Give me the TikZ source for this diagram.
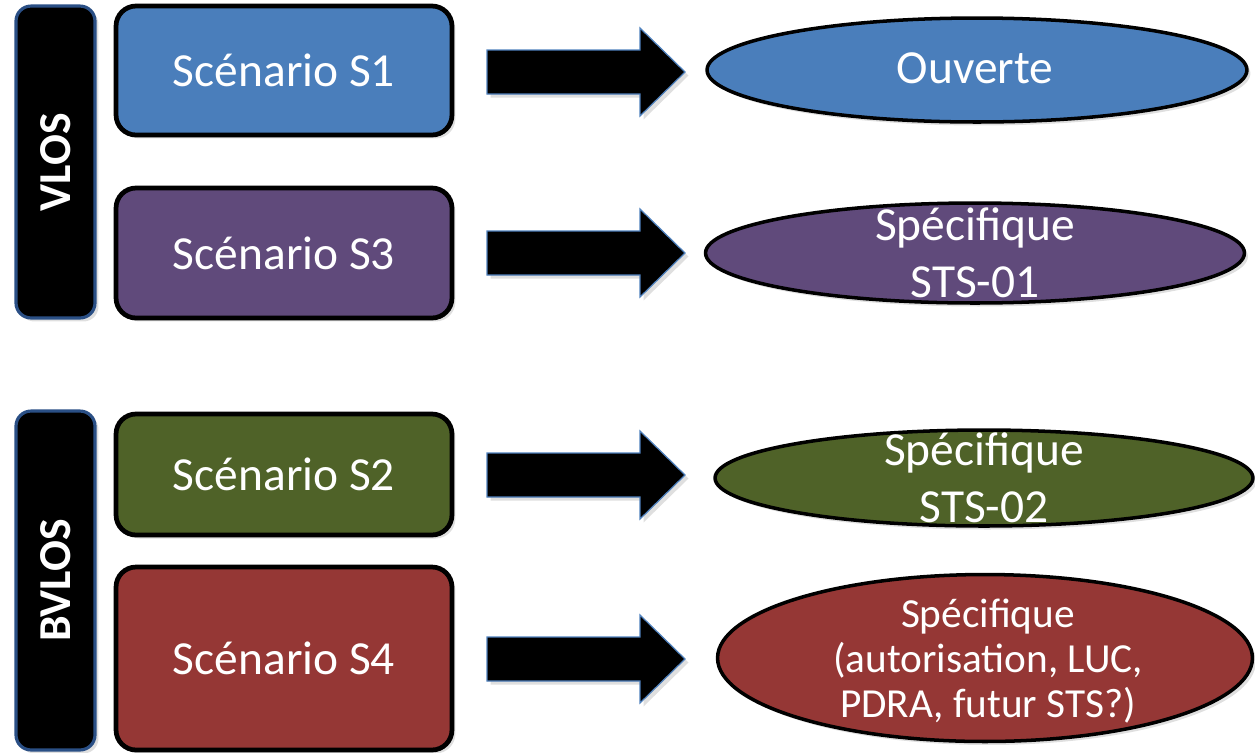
\documentclass[tikz,border=0pt]{standalone}
\usepackage{fontspec}
\setmainfont{Carlito}
\usetikzlibrary{shapes.geometric,shadows}

\definecolor{sblue}{HTML}{4A7EBB}
\definecolor{spurple}{HTML}{604A7B}
\definecolor{sgreen}{HTML}{4F6228}
\definecolor{sred}{HTML}{953735}
\definecolor{barline}{HTML}{2A4F85}
\definecolor{arrline}{HTML}{4F81BD}

\tikzset{
  softshadow/.style={drop shadow={opacity=0.25, shadow xshift=0.07cm, shadow yshift=-0.07cm}},
  scen/.style={draw=black, line width=2.7pt, rounded corners=0.4cm, text=white,
    minimum width=6.72cm, font=\fontsize{27}{32}\selectfont, softshadow},
  flight/.style={draw=barline, fill=black, line width=1.8pt, rounded corners=0.3cm,
    text=white, rotate=90, minimum height=1.58cm, font=\bfseries\fontsize{26}{30}\selectfont, softshadow},
  categ/.style={ellipse, draw=black, line width=2pt, inner sep=0pt, softshadow},
  categtext/.style={text=white, align=center},
  arrline/.style={draw=arrline, fill=black, line width=0.7pt, softshadow},
  blockarrow/.pic={\path[arrline] (0,-22) -- (153,-22) -- (153,-44) -- (198,0) -- (153,44) -- (153,22) -- (0,22) -- cycle;}
}

\begin{document}
\begin{tikzpicture}[x=0.02cm, y=-0.02cm]
\useasboundingbox (0,0) rectangle (1255,752);

% vol en vue / hors vue
\node[flight, minimum width=6.24cm] (vlos) at (55.5,162) {VLOS};
\node[flight, minimum width=6.78cm] (bvlos) at (55.5,580.5) {BVLOS};

% scenarios
\node[scen, fill=sblue, minimum height=2.58cm] (s1) at (284,70.5) {Scénario S1};
\node[scen, fill=spurple, minimum height=2.6cm] (s3) at (284,253) {Scénario S3};
\node[scen, fill=sgreen, minimum height=2.42cm] (s2) at (284,474.5) {Scénario S2};
\node[scen, fill=sred, minimum height=3.66cm] (s4) at (284,658.5) {Scénario S4};

% fleches
\pic at (487,72) {blockarrow};
\pic at (487,253) {blockarrow};
\pic at (487,475) {blockarrow};
\pic at (487,659) {blockarrow};

% categories
\node[categ, fill=sblue, minimum width=10.8cm, minimum height=2.08cm] (ouv) at (977,70) {};
\node[categtext, font=\fontsize{27}{32}\selectfont] (ouvtxt) at (975,68) {Ouverte};
\node[categ, fill=spurple, minimum width=10.78cm, minimum height=2cm] (sts1) at (975,253) {};
\node[categtext, font=\fontsize{27}{32.5}\selectfont] (sts1txt) at (975,253) {Spécifique\\STS-01};
\node[categ, fill=sgreen, minimum width=10.76cm, minimum height=1.92cm] (sts2) at (984,478) {};
\node[categtext, font=\fontsize{27}{32.5}\selectfont] (sts2txt) at (984,478) {Spécifique\\STS-02};
\node[categ, fill=sred, minimum width=10.7cm, minimum height=3.34cm] (autre) at (985,658) {};
\node[categtext, font=\fontsize{23.5}{25.5}\selectfont] (autretxt) at (988,661) {Spécifique\\(autorisation, LUC,\\PDRA, futur STS?)};
\end{tikzpicture}
\end{document}
